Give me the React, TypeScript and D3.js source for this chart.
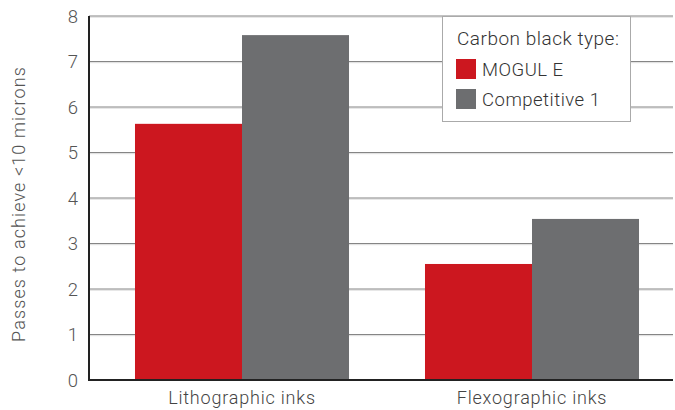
import React from "react";
import * as d3 from "d3";

const categories = ["Lithographic inks", "Flexographic inks"];
const seriesNames = ["MOGUL E", "Competitive 1"];
const mogulE = [5.63, 2.55];
const competitive1 = [7.58, 3.54];
const yTicks = [0, 1, 2, 3, 4, 5, 6, 7, 8];
const colors = ["#cc171f", "#6d6e70"];

export default function App() {
  const W = 675, H = 410;
  const left = 89, right = 673, top = 16, bottom = 380;
  const y = d3.scaleLinear().domain([0, 8]).range([bottom, top]);
  const x0 = d3.scaleBand().domain(categories).range([97, 677]).paddingInner(0.262).paddingOuter(0.131);
  const x1 = d3.scaleBand().domain(seriesNames).range([0, x0.bandwidth()]);
  const values = [mogulE, competitive1];
  const font = "Roboto, 'DejaVu Sans', sans-serif";
  return (
    <svg width={W} height={H} style={{ position: "absolute", left: 0, top: 0 }} fontFamily={font}>
      {yTicks.map((t) => (
        <g key={t}>
          {t > 0 && (
            <>
              <line x1={left} x2={right} y1={y(t) + 1.2} y2={y(t) + 1.2} stroke="#dcdcdc" strokeWidth={1} />
              <line x1={left} x2={right} y1={y(t)} y2={y(t)} stroke="#858585" strokeWidth={1.2} />
            </>
          )}
          <text x={78} y={y(t)} dy="0.36em" textAnchor="end" fontSize={18.5} fontWeight={300} fill="#555">{t}</text>
        </g>
      ))}
      {categories.map((c, i) =>
        seriesNames.map((s, j) => (
          <rect key={c + s} x={(x0(c) as number) + (x1(s) as number)} width={x1.bandwidth()}
            y={y(values[j][i])} height={bottom - y(values[j][i])} fill={colors[j]} />
        ))
      )}
      <line x1={left} x2={left} y1={top} y2={bottom + 1} stroke="#222" strokeWidth={2} />
      <line x1={left - 1} x2={right} y1={bottom} y2={bottom} stroke="#222" strokeWidth={2} />
      {categories.map((c) => (
        <text key={c} x={(x0(c) as number) + x0.bandwidth() / 2} y={404} textAnchor="middle" fontSize={18} letterSpacing={0.8} fontWeight={300} fill="#444">{c}</text>
      ))}
      <text transform={`translate(19,204) rotate(-90)`} textAnchor="middle" dy="0.35em" fontSize={18} letterSpacing={1.1} fontWeight={300} fill="#555">Passes to achieve &lt;10 microns</text>
      <g>
        <rect x={442.5} y={16.5} width={188} height={105} fill="#fff" stroke="#aaa" strokeWidth={1} />
        <text x={457} y={45} fontSize={19} letterSpacing={0.5} fontWeight={300} fill="#333">Carbon black type:</text>
        {seriesNames.map((s, j) => (
          <g key={s}>
            <rect x={456} y={59 + j * 30} width={20} height={20} fill={colors[j]} />
            <text x={482} y={69 + j * 30} dy="0.36em" fontSize={18.5} letterSpacing={0.5} fontWeight={300} fill="#333">{s}</text>
          </g>
        ))}
      </g>
    </svg>
  );
}
